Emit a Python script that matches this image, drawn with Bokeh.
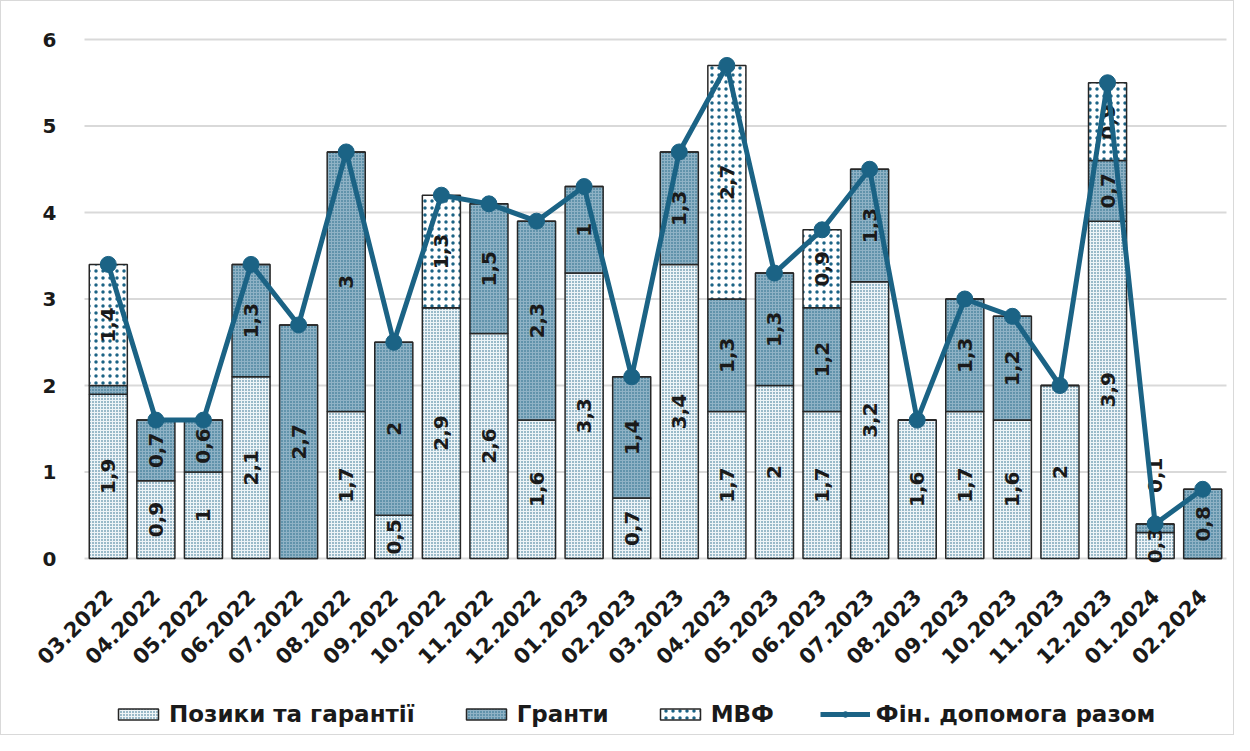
import math
from bokeh.plotting import figure
from bokeh.models import Range1d, Legend, LegendItem, ColumnDataSource
from bokeh.embed import file_html
from bokeh.resources import INLINE

months = ["03.2022", "04.2022", "05.2022", "06.2022", "07.2022", "08.2022",
          "09.2022", "10.2022", "11.2022", "12.2022", "01.2023", "02.2023",
          "03.2023", "04.2023", "05.2023", "06.2023", "07.2023", "08.2023",
          "09.2023", "10.2023", "11.2023", "12.2023", "01.2024", "02.2024"]
loans = [1.9, 0.9, 1.0, 2.1, 0.0, 1.7, 0.5, 2.9, 2.6, 1.6, 3.3, 0.7,
         3.4, 1.7, 2.0, 1.7, 3.2, 1.6, 1.7, 1.6, 2.0, 3.9, 0.3, 0.0]
grants = [0.1, 0.7, 0.6, 1.3, 2.7, 3.0, 2.0, 0.0, 1.5, 2.3, 1.0, 1.4,
          1.3, 1.3, 1.3, 1.2, 1.3, 0.0, 1.3, 1.2, 0.0, 0.7, 0.1, 0.8]
imf = [1.4, 0.0, 0.0, 0.0, 0.0, 0.0, 0.0, 1.3, 0.0, 0.0, 0.0, 0.0,
       0.0, 2.7, 0.0, 0.9, 0.0, 0.0, 0.0, 0.0, 0.0, 0.9, 0.0, 0.0]
total = [3.4, 1.6, 1.6, 3.4, 2.7, 4.7, 2.5, 4.2, 4.1, 3.9, 4.3, 2.1,
         4.7, 5.7, 3.3, 3.8, 4.5, 1.6, 3.0, 2.8, 2.0, 5.5, 0.4, 0.8]
y_ticks = [0, 1, 2, 3, 4, 5, 6]
series_names = ["Позики та гарантії", "Гранти", "МВФ"]
total_name = "Фін. допомога разом"

BLUE = "#1b6385"
FONT = "DejaVu Sans"
TXT = "#1a1a1a"

styles = {
    "loans": dict(fill_color="#eef4f7", hatch_pattern="dot", hatch_scale=3),
    "grants": dict(fill_color="#8fb2c5", hatch_pattern="dot", hatch_scale=3),
    "imf": dict(fill_color="white", hatch_pattern="dot", hatch_scale=7),
}

# layout in pixels (plot area inside the canvas)
W, H = 1234, 735
LEFT, RIGHT, TOP = 83, 1225, 38
PX_Y = 86.5                       # pixels per unit on the value axis
n = len(months)
PX_X = (RIGHT - LEFT) / n         # pixels per category
xs = list(range(n))               # category positions

x_range = Range1d(-0.5 - LEFT / PX_X, n - 0.5 + (W - RIGHT) / PX_X)
y_range = Range1d(max(y_ticks) - (H - TOP) / PX_Y, max(y_ticks) + TOP / PX_Y)

p = figure(x_range=x_range, y_range=y_range, width=W, height=H,
           output_backend="svg", toolbar_location=None,
           x_axis_location=None, y_axis_location=None, min_border=0)
p.styles = {"border": "1px solid #d9d9d9"}
p.outline_line_color = None
p.background_fill_color = "white"
p.border_fill_color = "white"
p.grid.visible = False

# horizontal grid lines over the plot area
p.segment(x0=[-0.5] * len(y_ticks), x1=[n - 0.5] * len(y_ticks),
          y0=y_ticks, y1=y_ticks, line_color="#d9d9d9", line_width=2)

# value axis labels
p.text(x=[-0.5] * len(y_ticks), y=y_ticks, text=[str(t) for t in y_ticks],
       x_offset=-35, text_align="center", text_baseline="middle",
       text_font_size="20px", text_font_style="bold", text_color=TXT,
       text_font={"value": FONT})

# month labels, rotated 45 degrees under each bar
p.text(x=xs, y=[0] * n, text=months, angle=math.pi / 4,
       x_offset=0, y_offset=34, text_align="right", text_baseline="middle",
       text_font_size="21px", text_font_style="bold", text_color=TXT,
       text_font={"value": FONT})

stacks = [("loans", loans), ("grants", grants), ("imf", imf)]
bottom = [0.0] * n
bar_renderers = []
label_x, label_y, label_t, label_off = [], [], [], []
for key, vals in stacks:
    top = [b + v for b, v in zip(bottom, vals)]
    src = ColumnDataSource(dict(x=xs, bottom=list(bottom), top=top))
    r = p.vbar(x="x", bottom="bottom", top="top", width=0.8, source=src,
               line_color="#262626", line_width=1.5, hatch_color=BLUE,
               **styles[key])
    bar_renderers.append(r)
    for i, v in enumerate(vals):
        if v <= 0:
            continue
        if key == "grants" and i == 0:
            continue  # tiny 0.1 segment not labelled in the original
        label_x.append(xs[i])
        label_y.append(bottom[i] + v / 2)
        label_t.append(f"{v:g}".replace(".", ","))
        label_off.append(-53 if (key == "grants" and months[i] == "01.2024") else 0)
    bottom = top

lsrc = ColumnDataSource(dict(x=label_x, y=label_y, t=label_t, off=label_off))
p.text(x="x", y="y", text="t", source=lsrc, angle=math.pi / 2,
       y_offset="off", text_align="center", text_baseline="middle",
       text_font_size="20px", text_font_style="bold", text_color=TXT,
       text_font={"value": FONT})

line = p.line(x=xs, y=total, line_width=5, line_color=BLUE)
dots = p.scatter(x=xs, y=total, size=16, fill_color=BLUE, line_color=BLUE)

legend = Legend(items=[
    LegendItem(label=series_names[0], renderers=[bar_renderers[0]]),
    LegendItem(label=series_names[1], renderers=[bar_renderers[1]]),
    LegendItem(label=series_names[2], renderers=[bar_renderers[2]]),
    LegendItem(label=total_name, renderers=[line, dots]),
], orientation="horizontal", location=(112, 9))
legend.label_text_font = FONT
legend.label_text_font_style = "bold"
legend.label_text_font_size = "23px"
legend.label_text_color = TXT
legend.glyph_width = 50
legend.glyph_height = 14
legend.label_standoff = 6
legend.spacing = 46
legend.padding = 0
legend.margin = 0
legend.border_line_color = None
legend.background_fill_alpha = 0
p.add_layout(legend, "center")

open("out.html", "w").write(file_html(p, INLINE))
